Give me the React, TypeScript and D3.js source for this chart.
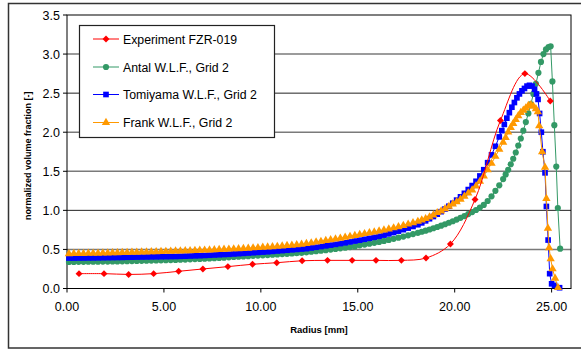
import React from 'react';
import * as d3 from 'd3';

// radius [mm], normalized volume fraction [-]
const experiment: [number, number][] = [
  [0.62, 0.19], [1.91, 0.19], [3.18, 0.18], [4.47, 0.19], [5.76, 0.22], [7.01, 0.25],
  [8.3, 0.28], [9.57, 0.31], [10.82, 0.33], [12.13, 0.355], [13.44, 0.36], [14.71, 0.36],
  [15.94, 0.36], [17.25, 0.36], [18.52, 0.39], [19.78, 0.57], [21.05, 1.14], [22.36, 2.15],
  [23.62, 2.75], [24.93, 2.4],
];

const antal: [number, number][] = [
  [0.1,0.34],[0.35,0.34],[0.6,0.341],[0.85,0.341],[1.1,0.342],[1.35,0.342],[1.6,0.343],[1.85,0.344],
  [2.1,0.345],[2.35,0.346],[2.6,0.347],[2.85,0.348],[3.1,0.35],[3.35,0.351],[3.6,0.352],[3.85,0.354],
  [4.1,0.355],[4.35,0.357],[4.6,0.358],[4.85,0.36],[5.1,0.362],[5.35,0.364],[5.6,0.366],[5.85,0.368],
  [6.1,0.37],[6.35,0.373],[6.6,0.376],[6.85,0.379],[7.1,0.382],[7.35,0.385],[7.6,0.388],[7.85,0.391],
  [8.1,0.395],[8.35,0.399],[8.6,0.403],[8.85,0.407],[9.1,0.411],[9.35,0.414],[9.6,0.418],[9.85,0.421],
  [10.1,0.425],[10.35,0.428],[10.6,0.432],[10.85,0.436],[11.1,0.44],[11.35,0.444],[11.6,0.448],[11.85,0.452],
  [12.1,0.456],[12.35,0.463],[12.6,0.47],[12.85,0.477],[13.1,0.484],[13.35,0.491],[13.6,0.498],[13.85,0.506],
  [14.1,0.514],[14.35,0.522],[14.6,0.53],[14.85,0.539],[15.1,0.552],[15.35,0.562],[15.6,0.573],[15.85,0.584],
  [16.1,0.596],[16.35,0.609],[16.6,0.622],[16.85,0.636],[17.1,0.65],[17.35,0.665],[17.6,0.68],[17.85,0.696],
  [18.1,0.712],[18.3,0.726],[18.5,0.74],[18.7,0.755],[18.9,0.771],[19.1,0.787],[19.3,0.804],[19.5,0.822],
  [19.7,0.841],[19.9,0.861],[20.1,0.882],[20.3,0.904],[20.5,0.927],[20.7,0.952],[20.9,0.978],[21.1,1.005],
  [21.3,1.035],[21.5,1.07],[21.7,1.12],[21.9,1.18],[22.1,1.25],[22.3,1.32],[22.5,1.4],[22.63,1.46],
  [22.76,1.52],[22.89,1.59],[23.02,1.66],[23.15,1.74],[23.28,1.83],[23.41,1.92],[23.54,2.02],[23.67,2.13],
  [23.8,2.24],[23.93,2.36],[24.06,2.49],[24.19,2.62],[24.32,2.76],[24.45,2.9],[24.58,3.0],[24.71,3.06],
  [24.84,3.09],[24.95,3.1],[25.04,2.65],[25.14,2.09],[25.24,1.56],[25.32,1.03],[25.44,0.51],
];

const tomiyama: [number, number][] = [
  [0.1,0.39],[0.35,0.39],[0.6,0.391],[0.85,0.391],[1.1,0.392],[1.35,0.392],[1.6,0.393],[1.85,0.394],
  [2.1,0.395],[2.35,0.396],[2.6,0.397],[2.85,0.398],[3.1,0.4],[3.35,0.401],[3.6,0.402],[3.85,0.403],
  [4.1,0.404],[4.35,0.405],[4.6,0.406],[4.85,0.407],[5.1,0.408],[5.35,0.409],[5.6,0.41],[5.85,0.412],
  [6.1,0.414],[6.35,0.416],[6.6,0.418],[6.85,0.42],[7.1,0.423],[7.35,0.426],[7.6,0.429],[7.85,0.432],
  [8.1,0.435],[8.35,0.438],[8.6,0.442],[8.85,0.446],[9.1,0.45],[9.35,0.454],[9.6,0.458],[9.85,0.462],
  [10.1,0.466],[10.35,0.47],[10.6,0.475],[10.85,0.48],[11.1,0.485],[11.35,0.49],[11.6,0.495],[11.85,0.5],
  [12.1,0.505],[12.35,0.51],[12.6,0.519],[12.85,0.528],[13.1,0.537],[13.35,0.546],[13.6,0.555],[13.85,0.565],
  [14.1,0.575],[14.35,0.585],[14.6,0.596],[14.85,0.607],[15.1,0.618],[15.35,0.63],[15.6,0.642],[15.85,0.655],
  [16.1,0.668],[16.35,0.683],[16.6,0.699],[16.85,0.716],[17.1,0.734],[17.35,0.753],[17.6,0.773],[17.85,0.794],
  [18.1,0.816],[18.3,0.84],[18.5,0.866],[18.7,0.893],[18.9,0.921],[19.1,0.951],[19.3,0.983],[19.5,1.017],
  [19.7,1.053],[19.9,1.091],[20.1,1.131],[20.3,1.173],[20.5,1.218],[20.7,1.266],[20.9,1.317],[21.1,1.372],
  [21.3,1.44],[21.5,1.52],[21.7,1.61],[21.9,1.71],[22.1,1.82],[22.3,1.94],[22.43,2.02],[22.56,2.1],
  [22.69,2.18],[22.82,2.25],[22.95,2.32],[23.08,2.38],[23.21,2.44],[23.34,2.49],[23.47,2.53],[23.6,2.56],
  [23.73,2.59],[23.86,2.6],[23.99,2.59],[24.12,2.55],[24.22,2.49],[24.3,2.42],[24.38,2.24],[24.47,2.0],
  [24.55,1.75],[24.66,1.48],[24.73,1.05],[24.82,0.62],[24.9,0.19],[25.0,0.06],[25.15,0.04],[25.41,0.01],
];

const frank: [number, number][] = [
  [0.1,0.445],[0.35,0.446],[0.6,0.447],[0.85,0.448],[1.1,0.449],[1.35,0.45],[1.6,0.451],[1.85,0.452],
  [2.1,0.454],[2.35,0.456],[2.6,0.457],[2.85,0.459],[3.1,0.46],[3.35,0.462],[3.6,0.464],[3.85,0.465],
  [4.1,0.467],[4.35,0.468],[4.6,0.47],[4.85,0.472],[5.1,0.474],[5.35,0.476],[5.6,0.478],[5.85,0.479],
  [6.1,0.481],[6.35,0.483],[6.6,0.486],[6.85,0.488],[7.1,0.49],[7.35,0.493],[7.6,0.495],[7.85,0.498],
  [8.1,0.5],[8.35,0.503],[8.6,0.506],[8.85,0.509],[9.1,0.512],[9.35,0.515],[9.6,0.519],[9.85,0.522],
  [10.1,0.526],[10.35,0.53],[10.6,0.534],[10.85,0.538],[11.1,0.543],[11.35,0.548],[11.6,0.553],[11.85,0.559],
  [12.1,0.565],[12.35,0.574],[12.6,0.583],[12.85,0.593],[13.1,0.602],[13.35,0.612],[13.6,0.622],[13.85,0.632],
  [14.1,0.643],[14.35,0.654],[14.6,0.666],[14.85,0.678],[15.1,0.69],[15.35,0.701],[15.6,0.712],[15.85,0.723],
  [16.1,0.735],[16.35,0.748],[16.6,0.761],[16.85,0.775],[17.1,0.79],[17.35,0.806],[17.6,0.823],[17.85,0.84],
  [18.1,0.858],[18.3,0.875],[18.5,0.893],[18.7,0.915],[18.9,0.94],[19.1,0.97],[19.3,0.99],[19.5,1.02],
  [19.7,1.05],[19.9,1.08],[20.1,1.11],[20.3,1.14],[20.5,1.18],[20.7,1.22],[20.9,1.26],[21.1,1.31],
  [21.3,1.37],[21.5,1.44],[21.7,1.52],[21.9,1.6],[22.1,1.69],[22.3,1.78],[22.5,1.87],[22.63,1.93],
  [22.76,2.0],[22.89,2.06],[23.02,2.11],[23.15,2.16],[23.28,2.21],[23.41,2.25],[23.54,2.28],[23.67,2.31],
  [23.8,2.34],[23.93,2.35],[24.06,2.33],[24.19,2.3],[24.29,2.26],[24.36,2.08],[24.51,1.75],[24.66,1.55],
  [24.73,1.15],[24.81,0.77],[24.87,0.52],[24.95,0.38],[25.05,0.25],[25.18,0.13],[25.33,0.01],
];

const xTicks = [0, 5, 10, 15, 20, 25];
const yTicks = [0, 0.5, 1, 1.5, 2, 2.5, 3, 3.5];
const darkGrid = [1, 2.5];

const series = [
  { name: 'Experiment FZR-019', data: experiment, color: '#ff0000', symbol: d3.symbolSquare, size: 24, rotate: 45, smooth: true },
  { name: 'Antal W.L.F., Grid 2', data: antal, color: '#339966', symbol: d3.symbolCircle, size: 30, rotate: 0, smooth: false },
  { name: 'Tomiyama W.L.F., Grid 2', data: tomiyama, color: '#0000ff', symbol: d3.symbolSquare, size: 32, rotate: 0, smooth: false },
  { name: 'Frank W.L.F., Grid 2', data: frank, color: '#ff9900', symbol: d3.symbolTriangle, size: 30, rotate: 0, smooth: false },
];

const font = 'Arial, "Liberation Sans", sans-serif';

export default function App() {
  const width = 581;
  const height = 350;
  const plot = { left: 67, right: 571, top: 15, bottom: 288.5 };

  const x = d3.scaleLinear().domain([0, 26]).range([plot.left, plot.right]);
  const y = d3.scaleLinear().domain([0, 3.5]).range([plot.bottom, plot.top]);

  const fmtX = d3.format('.2f');
  const fmtY = d3.format('.1f');

  const lineFor = (smooth: boolean) =>
    d3.line<[number, number]>()
      .x((d) => x(d[0]))
      .y((d) => y(d[1]))
      .curve(smooth ? d3.curveCatmullRom.alpha(0.5) : d3.curveLinear);

  // draw order: simulations first, experiment on top
  const drawOrder = [series[1], series[2], series[3], series[0]];

  const legend = { x: 79.5, y: 25.5, w: 195, h: 112 };
  const legendRows = [39, 67, 94.5, 122.5];

  return (
    <svg width={width} height={height} style={{ position: 'absolute', left: 0, top: 0, background: '#fff' }}>
      <rect x={8.5} y={3.5} width={600} height={344.5} fill="#fff" stroke="#333" strokeWidth={1.5} />

      {/* gridlines */}
      {yTicks.filter((t) => t > 0 && t < 3.5).map((t) => (
        <line key={'g' + t} x1={plot.left} x2={plot.right} y1={y(t)} y2={y(t)}
          stroke={darkGrid.includes(t) ? '#222' : '#7a7a7a'} strokeWidth={darkGrid.includes(t) ? 1 : 1.6} />
      ))}

      {/* plot frame */}
      <rect x={plot.left} y={plot.top} width={plot.right - plot.left} height={plot.bottom - plot.top}
        fill="none" stroke="#000" strokeWidth={1} />

      {/* x axis */}
      {xTicks.map((t) => (
        <g key={'x' + t}>
          <line x1={x(t)} x2={x(t)} y1={plot.bottom} y2={plot.bottom + 4} stroke="#000" />
          <text x={x(t)} y={310.5} textAnchor="middle" fontFamily={font} fontSize={12.5} fill="#000">{fmtX(t)}</text>
        </g>
      ))}

      {/* y axis */}
      {yTicks.map((t) => (
        <g key={'y' + t}>
          <line x1={plot.left - 4} x2={plot.left} y1={y(t)} y2={y(t)} stroke="#000" />
          <text x={60} y={y(t) + 4.5} textAnchor="end" fontFamily={font} fontSize={12.5} fill="#000">{fmtY(t)}</text>
        </g>
      ))}

      <text x={(plot.left + plot.right) / 2} y={333} textAnchor="middle" fontFamily={font} fontSize={9.5}
        fontWeight="bold" fill="#000">Radius [mm]</text>
      <text transform={`translate(31, ${(plot.top + plot.bottom) / 2 + 4}) rotate(-90)`} textAnchor="middle"
        fontFamily={font} fontSize={9} fontWeight="bold" fill="#000">normalized volume fraction [-]</text>

      {/* series */}
      {drawOrder.map((s) => (
        <g key={s.name}>
          <path d={lineFor(s.smooth)(s.data) || ''} fill="none" stroke={s.color} strokeWidth={1} />
          {s.data.map((d, i) => (
            <path key={i} d={d3.symbol(s.symbol, s.size)() || ''} fill={s.color}
              transform={`translate(${x(d[0])},${y(d[1])}) rotate(${s.rotate})`} />
          ))}
        </g>
      ))}

      {/* legend */}
      <rect x={legend.x} y={legend.y} width={legend.w} height={legend.h} fill="#fff" stroke="#222" strokeWidth={1.2} />
      {series.map((s, i) => (
        <g key={'l' + s.name}>
          <line x1={93} x2={119} y1={legendRows[i]} y2={legendRows[i]} stroke={s.color} strokeWidth={1} />
          <path d={d3.symbol(s.symbol, s.size)() || ''} fill={s.color}
            transform={`translate(106,${legendRows[i]}) rotate(${s.rotate})`} />
          <text x={123} y={legendRows[i] + 4.5} fontFamily={font} fontSize={12.3} fill="#000">{s.name}</text>
        </g>
      ))}
    </svg>
  );
}
